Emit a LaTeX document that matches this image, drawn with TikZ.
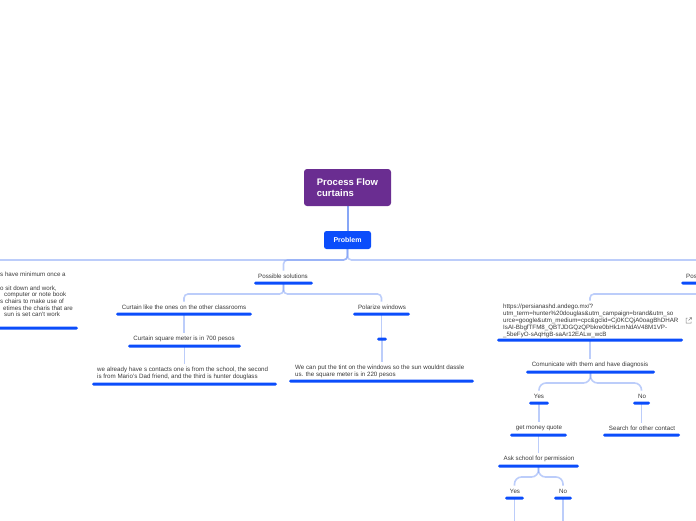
\documentclass[tikz,border=0pt]{standalone}
\usepackage{fontspec}
\setmainfont{Liberation Sans}
\usetikzlibrary{backgrounds}
\definecolor{rootpurple}{HTML}{6A2D91}
\definecolor{probblue}{HTML}{0B4DFB}
\definecolor{barblue}{HTML}{0B4DFB}
\definecolor{connblue}{HTML}{7A9CF5}
\definecolor{txtgray}{HTML}{3A3A3A}
\begin{document}
\begin{tikzpicture}[x=1pt,y=-1pt,
  topic/.style={font=\fontsize{6.2}{7}\selectfont, text=txtgray, inner sep=0pt, align=center},
  ltopic/.style={topic, align=left},
  bar/.style={fill=barblue, rounded corners=1.5pt, minimum height=3pt, inner sep=0pt, minimum width=#1},
  conn/.style={draw=connblue, draw opacity=0.5, line width=1.6pt, rounded corners=4pt},
  bconn/.style={conn, rounded corners=7pt},
  rootconn/.style={conn, draw opacity=0.9, line width=2pt}]
\clip (0,0) rectangle (696,520);

% central nodes
\node[fill=rootpurple, rounded corners=3pt, minimum width=87pt, minimum height=37pt, inner sep=0pt,
      text=white, align=left, font=\fontsize{9.5}{11}\selectfont\bfseries] (root) at (347.5,187.5) {Process Flow\\curtains};
\node[fill=probblue, rounded corners=2.5pt, minimum width=47pt, minimum height=18pt, inner sep=0pt,
      text=white, font=\fontsize{7}{8}\selectfont\bfseries] (prob) at (347.5,240) {Problem};

% left (cut) branch
\node[ltopic, anchor=north west, font=\fontsize{6.2}{6.7}\selectfont] (leftnode) at (0,272)
  {s have minimum once a\\[6.7pt]o sit down and work,\\\hspace*{4pt}computer or note book\\s chairs to make use of\\\hspace*{3pt}etimes the charis that are\\\hspace*{4pt}sun is set can't work};
\node[bar=236pt] (leftbar) at (-40,328) {};
\coordinate (lefttop) at (-40,270);

% possible solutions branch
\node[topic] (ps) at (283,276) {Possible solutions};
\node[bar=59pt] (psbar) at (283.5,283) {};
\node[topic] (cl) at (184,307) {Curtain like the ones on the other classrooms};
\node[bar=136pt] (clbar) at (184,314) {};
\node[topic] (cs) at (184,339) {Curtain square meter is in 700 pesos};
\node[bar=113pt] (csbar) at (184.5,346) {};
\node[ltopic, anchor=north west] (wa) at (97,367) {we already have s contacts one is from the school, the second\\is from Mario's Dad friend, and the third is hunter douglass};
\node[bar=185pt] (wabar) at (184.5,384) {};
\node[topic] (pw) at (382,307) {Polarize windows};
\node[bar=57pt] (pwbar) at (381.5,314) {};
\node[bar=10pt] (pwsmall) at (382,339) {};
\node[ltopic, anchor=north west] (wc) at (295,365) {We can put the tint on the windows so the sun wouldnt dassle\\us. the square meter is in 220 pesos};
\node[bar=185pt] (wcbar) at (381.5,381) {};

% right (cut) branch
\node[topic, anchor=west] (pos) at (686,276) {Pos};
\node[bar=59pt] (posbar) at (710.5,283) {};
\coordinate (rtop) at (710,270);
\node[ltopic, anchor=north west] (url) at (503,303.5) {https://persianashd.andego.mx/?\\utm\_term=hunter\%20douglas\&utm\_campaign=brand\&utm\_so\\urce=google\&utm\_medium=cpc\&gclid=Cj0KCQjA0oagBhDHAR\\IsAI-BbgfTFM8\_QBTJDGQzQPbkre0bHk1mNdAV48M1VP-\\\_5beFyO-sAqHgB-saAr12EALw\_wcB};
\node[bar=186pt] (urlbar) at (590,340) {};
\draw[gray, line width=0.5pt] (687.5,318) -- (686,318) -- (686,323) -- (691,323) -- (691,321.5)
  (688.5,320.5) -- (691.5,317.5) (689.5,317.5) -- (691.5,317.5) -- (691.5,319.5);
\node[topic] (cm) at (590,365) {Comunicate with them and have diagnosis};
\node[bar=129pt] (cmbar) at (590.5,372) {};
\node[topic] (y1) at (539,396) {Yes};
\node[bar=20pt] (y1bar) at (539,403) {};
\node[topic] (n1) at (642,396) {No};
\node[bar=17pt] (n1bar) at (641.5,403) {};
\node[topic] (gm) at (539,428) {get money quote};
\node[bar=57pt] (gmbar) at (538.5,435) {};
\node[topic] (so) at (642,428) {Search for other contact};
\node[bar=77pt] (sobar) at (641.5,435) {};
\node[topic] (as) at (539,459) {Ask school for permission};
\node[bar=81pt] (asbar) at (538.5,466) {};
\node[topic] (y2) at (515,491) {Yes};
\node[bar=19pt] (y2bar) at (514.5,498) {};
\node[topic] (n2) at (563,491) {No};
\node[bar=18pt] (n2bar) at (563,498) {};
\coordinate (y2end) at (514.5,530);
\coordinate (n2end) at (563,530);

\coordinate (h1) at (0,260);
\coordinate (h2) at (0,294);
\coordinate (h4) at (0,383);
\coordinate (h5) at (0,477);

\begin{pgfonlayer}{background}
\draw[rootconn] (root.south) -- (prob.north);
\draw[conn] (prob.south) -- (prob.south |- h1) -- (lefttop |- h1) -- (lefttop);
\draw[conn] (prob.south) -- (prob.south |- h1) -- (psbar.center |- h1) -- ([yshift=3pt]ps.north -| psbar.center);
\draw[conn] (prob.south) -- (prob.south |- h1) -- (rtop |- h1) -- (rtop);
\draw[conn] (psbar.center) -- (psbar.center |- h2) -- (clbar.center |- h2) -- ([yshift=3pt]cl.north -| clbar.center);
\draw[conn] (psbar.center) -- (psbar.center |- h2) -- (pwbar.center |- h2) -- ([yshift=3pt]pw.north -| pwbar.center);
\draw[conn] (clbar.center) -- ([yshift=3pt]cs.north -| clbar.center);
\draw[conn] (csbar.center) -- ([yshift=3pt]wa.north -| csbar.center);
\draw[conn] (pwbar.center) -- (pwsmall.center -| pwbar.center);
\draw[conn] (pwsmall.center) -- ([yshift=3pt]wc.north -| pwsmall.center);
\draw[conn] (posbar.center) -- (posbar.center |- h2) -- (urlbar.center |- h2) -- ([yshift=3pt]url.north -| urlbar.center);
\draw[conn] (urlbar.center) -- ([yshift=3pt]cm.north -| urlbar.center);
\draw[bconn] (cmbar.center) -- (cmbar.center |- h4) -- (y1bar.center |- h4) -- ([yshift=3pt]y1.north -| y1bar.center);
\draw[bconn] (cmbar.center) -- (cmbar.center |- h4) -- (n1bar.center |- h4) -- ([yshift=3pt]n1.north -| n1bar.center);
\draw[conn] (y1bar.center) -- ([yshift=3pt]gm.north -| y1bar.center);
\draw[conn] (n1bar.center) -- ([yshift=3pt]so.north -| n1bar.center);
\draw[conn] (gmbar.center) -- ([yshift=3pt]as.north -| gmbar.center);
\draw[bconn] (asbar.center) -- (asbar.center |- h5) -- (y2bar.center |- h5) -- ([yshift=3pt]y2.north -| y2bar.center);
\draw[bconn] (asbar.center) -- (asbar.center |- h5) -- (n2bar.center |- h5) -- ([yshift=3pt]n2.north -| n2bar.center);
\draw[conn] (y2bar.center) -- (y2end);
\draw[conn] (n2bar.center) -- (n2end);
\end{pgfonlayer}
\end{tikzpicture}
\end{document}
